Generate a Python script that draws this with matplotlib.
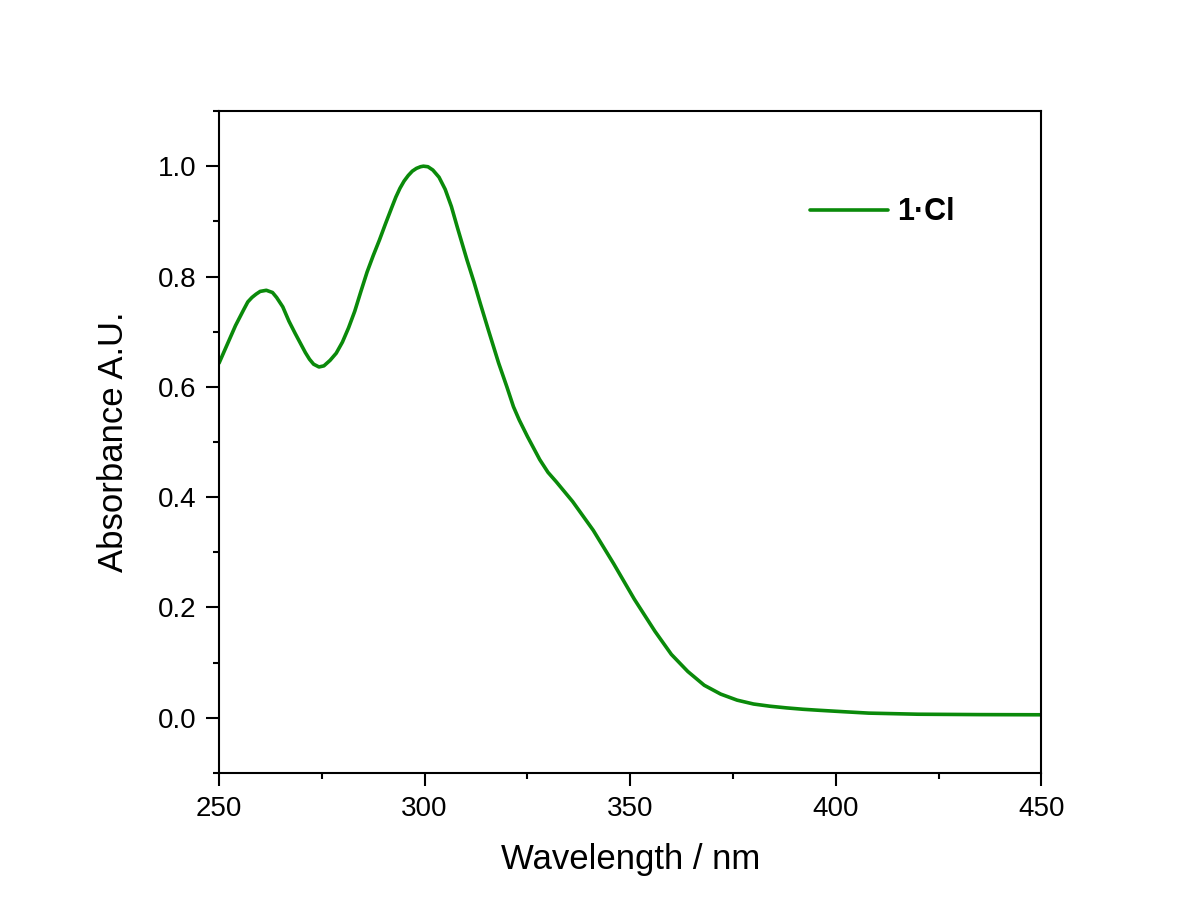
import matplotlib
matplotlib.use("Agg")
import matplotlib.pyplot as plt
from matplotlib.ticker import MultipleLocator, FormatStrFormatter

wavelength = [250, 252, 254, 256, 257, 258, 259, 260, 261.5, 263, 264, 265.5, 267, 268.5, 270,
              271, 272, 273, 274.3, 275.5, 277, 278.5, 280, 281.5, 283, 284.5, 286, 287.5, 289,
              290.5, 292, 293, 294, 295, 296, 297, 298, 299, 299.7, 300.8, 302, 303.5, 305,
              306.5, 308, 310.3, 312, 313.5, 315.5, 318, 320, 321.6, 323, 325, 328, 330, 332,
              336, 341, 346, 351, 356, 360, 364, 368, 372, 376, 380, 384, 388, 392, 396, 402,
              408, 420, 435, 450]
absorbance = [0.643, 0.677, 0.711, 0.740, 0.754, 0.762, 0.768, 0.773, 0.775, 0.771, 0.762,
              0.745, 0.719, 0.697, 0.676, 0.662, 0.650, 0.641, 0.636, 0.638, 0.648, 0.661,
              0.681, 0.707, 0.737, 0.773, 0.808, 0.838, 0.866, 0.896, 0.925, 0.944, 0.960,
              0.973, 0.983, 0.991, 0.996, 0.999, 1.000, 0.999, 0.993, 0.980, 0.958, 0.927,
              0.888, 0.830, 0.790, 0.752, 0.703, 0.643, 0.600, 0.564, 0.540, 0.510, 0.468,
              0.445, 0.428, 0.392, 0.340, 0.279, 0.215, 0.157, 0.115, 0.084, 0.059, 0.043,
              0.032, 0.025, 0.021, 0.018, 0.0155, 0.0136, 0.011, 0.0085, 0.0065, 0.0058,
              0.0055]
series_label = "1·Cl"
x_label = "Wavelength / nm"
y_label = "Absorbance A.U."

plt.rcParams['font.family'] = ['Liberation Sans', 'DejaVu Sans']

fig = plt.figure(figsize=(11.97, 9.19), dpi=100)
fig.patch.set_facecolor('white')
ax = fig.add_axes([0.183, 0.1589, 0.687, 0.7203])

ax.plot(wavelength, absorbance, color='#0a8a0a', lw=2.6, label=series_label,
        solid_joinstyle='round', solid_capstyle='round')

ax.set_xlim(250, 450)
ax.set_ylim(-0.1, 1.1)
ax.xaxis.set_major_locator(MultipleLocator(50))
ax.xaxis.set_minor_locator(MultipleLocator(25))
ax.yaxis.set_major_locator(MultipleLocator(0.2))
ax.yaxis.set_minor_locator(MultipleLocator(0.1))
ax.yaxis.set_major_formatter(FormatStrFormatter('%.1f'))

ax.tick_params(which='major', direction='out', length=9.5, width=1.5, labelsize=20,
               top=False, right=False, pad=7)
ax.tick_params(which='minor', direction='out', length=4.5, width=1.5, top=False, right=False)
for s in ax.spines.values():
    s.set_linewidth(1.5)

ax.set_xlabel(x_label, fontsize=25, labelpad=15)
ax.set_ylabel(y_label, fontsize=25, labelpad=20)

leg = ax.legend(loc='center left', bbox_to_anchor=(0.719, 0.847), frameon=False,
                handlelength=2.55, handletextpad=0.3, borderpad=0, borderaxespad=0,
                prop={'size': 22, 'weight': 'bold'})

fig.savefig("out.png", dpi=100, facecolor='white')
